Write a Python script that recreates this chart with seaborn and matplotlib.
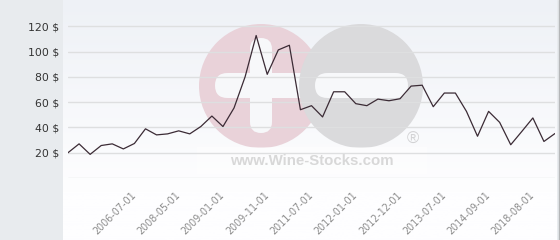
import numpy as np
import pandas as pd
import matplotlib
matplotlib.use("Agg")
import matplotlib.pyplot as plt
import matplotlib.transforms as mtransforms
from matplotlib.patches import Circle, FancyBboxPatch, Rectangle
from matplotlib.lines import Line2D
import seaborn as sns

# ---- data ----
prices = [20, 27, 18.7, 25.7, 27, 23, 27.3, 38.9, 34.1, 34.9,
          37.3, 34.9, 40.7, 49, 40.7, 55.4, 80, 112.7, 82, 101.3,
          105, 54, 57.2, 48.3, 68.2, 68.2, 58.8, 57.2, 62.4, 61.1,
          62.7, 72.7, 73.4, 56.4, 67.2, 67.2, 52.7, 33, 52.7, 44,
          26.3, 36.8, 47.5, 28.9, 35.2]
point_index = list(range(len(prices)))
tick_index = [6, 10, 14, 18, 22, 26, 30, 34, 38, 42]
tick_labels = ["2006-07-01", "2008-05-01", "2009-01-01", "2009-11-01",
               "2011-07-01", "2012-01-01", "2012-12-01", "2013-07-01",
               "2014-09-01", "2018-08-01"]
y_ticks = [0, 20, 40, 60, 80, 100, 120]
y_labels = ["", "20 $", "40 $", "60 $", "80 $", "100 $", "120 $"]

df = pd.DataFrame({"idx": point_index, "price": prices})

sns.set_theme(style="white")
plt.rcParams["font.family"] = ["DejaVu Sans"]

W, H = 560, 240
fig = plt.figure(figsize=(W / 100, H / 100), dpi=100)
fig.patch.set_facecolor("#e8ebee")

# background gradient panel
bg = fig.add_axes([63 / W, 0, (557 - 63) / W, 1], zorder=0)
grad = np.linspace(0, 1, 256).reshape(-1, 1)
top = np.array([238, 241, 246]) / 255
bot = np.array([254, 254, 255]) / 255
t = np.clip(grad / 0.8, 0, 1)
img = top * (1 - t)[..., None] + bot * t[..., None]
img = img.reshape(256, 1, 3)
bg.imshow(img, aspect="auto", extent=[0, 1, 0, 1], origin="upper")
bg.set_axis_off()

fig.add_artist(Line2D([558.5 / W, 558.5 / W], [0, 1], transform=fig.transFigure,
                      color="#b4b6b8", lw=1))

ax = fig.add_axes([68 / W, 62 / H, 487 / W, 177 / H], zorder=1)
ax.patch.set_alpha(0)

# watermark in pixel coordinates
ident = mtransforms.IdentityTransform()

def P(x, y):
    return (x, H - y)

def rbar(x0, y0, x1, y1, color, z):
    r = min(x1 - x0, y1 - y0) / 2
    p = FancyBboxPatch(P(x0, y1), x1 - x0, y1 - y0,
                       boxstyle=f"round,pad=0,rounding_size={r}",
                       transform=ident, facecolor=color, edgecolor="none",
                       zorder=z, clip_on=False)
    ax.add_artist(p)

ax.add_artist(Circle(P(261, 86), 62, transform=ident, facecolor="#e9d2d9",
                     edgecolor="none", zorder=0.1, clip_on=False))
rbar(215, 73, 320, 98, "#f7f8fa", 0.15)
rbar(250, 38, 272, 133, "#f7f8fa", 0.15)
ax.add_artist(Circle(P(361, 86), 62, transform=ident, facecolor="#dadadc",
                     edgecolor="none", zorder=0.2, clip_on=False))
rbar(315, 73, 408, 98, "#f7f8fa", 0.25)
ax.add_artist(Rectangle(P(197, 174), 230, 27, transform=ident,
                        facecolor="white", alpha=0.45, edgecolor="none",
                        zorder=0.3, clip_on=False))
ax.text(312, H - 161, "www.Wine-Stocks.com", transform=ident, ha="center",
        va="center", fontsize=10.8, fontweight="bold", color="#d8d8d8",
        family=["Liberation Sans", "DejaVu Sans"], zorder=0.35)
ax.text(413, H - 139, "\u00ae", transform=ident, ha="center", va="center",
        fontsize=12, color="#d2d2d4", family=["Liberation Sans", "DejaVu Sans"],
        zorder=0.35)

sns.lineplot(data=df, x="idx", y="price", ax=ax, color="#3b2b35",
             linewidth=0.9, zorder=3)

ax.set_xlim(0, len(prices) - 1)
ax.set_ylim(0, 140)
ax.set_yticks(y_ticks)
ax.set_yticklabels(y_labels)
ax.set_xticks(tick_index)
ax.set_xticklabels(tick_labels)
ax.set_xlabel("")
ax.set_ylabel("")
ax.yaxis.grid(True, color="#dedfe0", linewidth=1, zorder=0.6)
ax.xaxis.grid(False)
ax.set_axisbelow(True)
for s in ax.spines.values():
    s.set_visible(False)
ax.tick_params(axis="y", length=0, pad=6.5, labelsize=7.8, labelcolor="#333333")
ax.tick_params(axis="x", length=0, pad=11, labelsize=6.9, labelcolor="#8c8c8c")
for lab in ax.get_xticklabels():
    lab.set_rotation(45)
    lab.set_ha("right")
    lab.set_va("center")
    lab.set_rotation_mode("anchor")

fig.savefig("out.png", dpi=100, facecolor=fig.get_facecolor())
